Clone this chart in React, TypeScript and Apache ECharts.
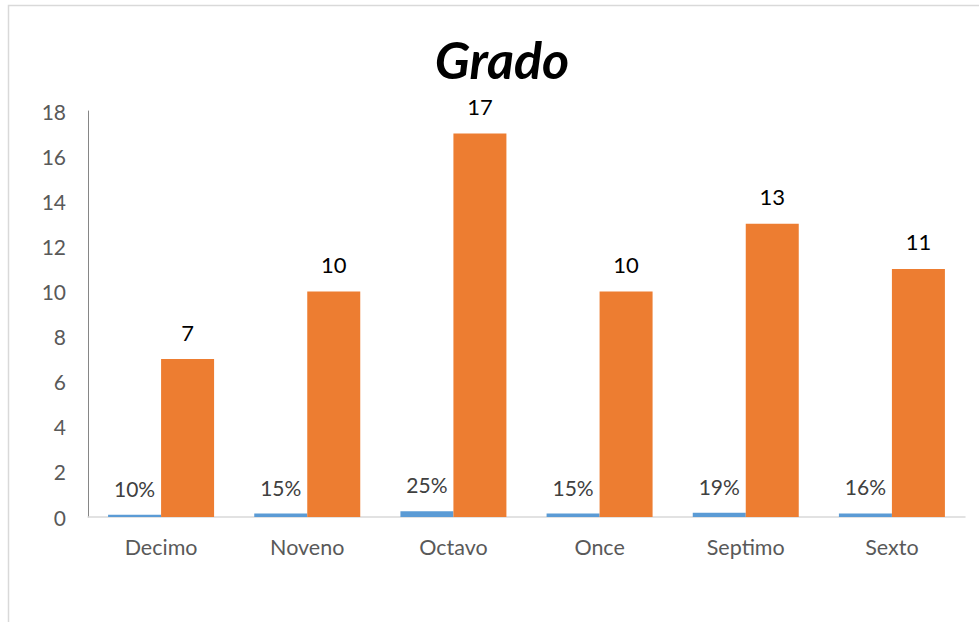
import React, { useEffect, useRef } from "react";
import * as echarts from "echarts";

const categories = ["Decimo", "Noveno", "Octavo", "Once", "Septimo", "Sexto"];
const percentValues = [0.1, 0.15, 0.25, 0.15, 0.19, 0.16];
const countValues = [7, 10, 17, 10, 13, 11];
const yTicks = { min: 0, max: 18, interval: 2 };
const titleText = "Grado";

export default function App() {
  const ref = useRef<HTMLDivElement>(null);
  useEffect(() => {
    if (!ref.current) return;
    const chart = echarts.init(ref.current, null, { renderer: "svg" });
    const font = "Lato, 'Noto Sans', sans-serif";
    chart.setOption({
      animation: false,
      backgroundColor: "#ffffff",
      textStyle: { fontFamily: font },
      title: {
        text: titleText,
        left: 497,
        top: 28,
        textAlign: "center",
        textStyle: {
          fontFamily: font,
          fontSize: 52,
          fontWeight: "bold",
          fontStyle: "italic",
          color: "#000000",
        },
      },
      graphic: [
        {
          type: "rect",
          shape: { x: 8.5, y: 5.5, width: 1100, height: 800 },
          style: { fill: "none", stroke: "#d9d9d9", lineWidth: 1.5 },
          silent: true,
        },
      ],
      grid: { left: 88, right: 14, top: 111, bottom: 105, containLabel: false },
      xAxis: {
        type: "category",
        data: categories,
        axisLine: { show: true, lineStyle: { color: "#d9d9d9", width: 1.5 } },
        axisTick: { show: false },
        axisLabel: { color: "#595959", fontSize: 21.5, margin: 19, fontFamily: font },
      },
      yAxis: {
        type: "value",
        min: yTicks.min,
        max: yTicks.max,
        interval: yTicks.interval,
        axisLine: { show: true, lineStyle: { color: "#868686", width: 1 } },
        axisTick: { show: false },
        splitLine: { show: false },
        axisLabel: { color: "#595959", fontSize: 21, margin: 22, fontFamily: font },
      },
      series: [
        {
          type: "bar",
          data: percentValues,
          barWidth: 53,
          barGap: "0%",
          itemStyle: { color: "#5b9bd5" },
          label: {
            show: true,
            position: "top",
            distance: 16,
            fontSize: 21,
            color: "#404040",
            fontFamily: font,
            formatter: (p: any) => Math.round(p.value * 100) + "%",
          },
        },
        {
          type: "bar",
          data: countValues,
          barWidth: 53,
          barGap: "0%",
          itemStyle: { color: "#ed7d31" },
          label: {
            show: true,
            position: "top",
            distance: 16,
            fontSize: 22,
            color: "#000000",
            fontFamily: font,
          },
        },
      ],
    });
    return () => chart.dispose();
  }, []);
  return (
    <div
      ref={ref}
      style={{ position: "absolute", left: 0, top: 0, width: 979, height: 622 }}
    />
  );
}
